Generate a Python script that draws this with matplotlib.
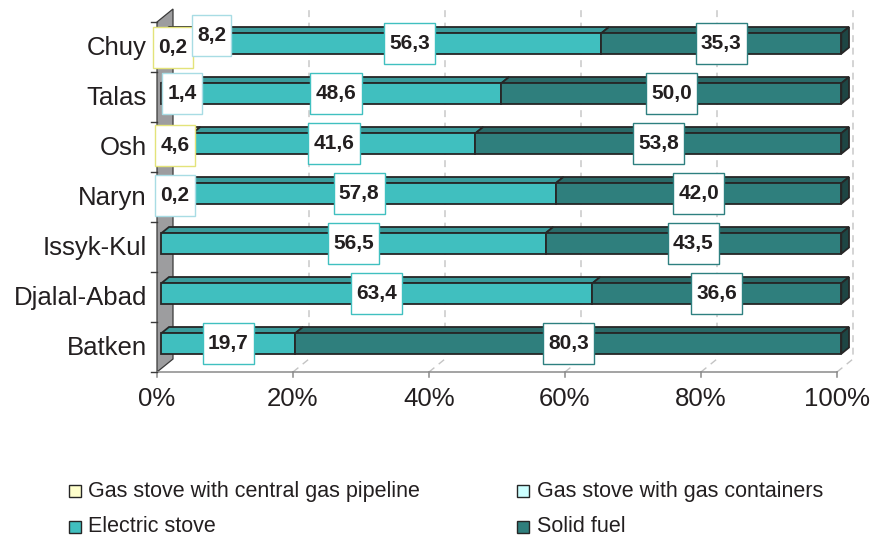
import matplotlib
matplotlib.use("Agg")
import matplotlib.pyplot as plt
from matplotlib.patches import Polygon, Rectangle
from matplotlib.path import Path

plt.rcParams["font.family"] = ["Liberation Sans", "DejaVu Sans"]

# ---- data (percent of households by main cooking appliance) ----
regions = ["Batken", "Djalal-Abad", "Issyk-Kul", "Naryn", "Osh", "Talas", "Chuy"]
gas_pipeline = [0.0, 0.0, 0.0, 0.0, 4.6, 0.0, 0.2]
gas_containers = [0.0, 0.0, 0.0, 0.2, 0.0, 1.4, 8.2]
electric = [19.7, 63.4, 56.5, 57.8, 41.6, 48.6, 56.3]
solid_fuel = [80.3, 36.6, 43.5, 42.0, 53.8, 50.0, 35.3]
series_names = ["Gas stove with central gas pipeline",
                "Gas stove with gas containers",
                "Electric stove",
                "Solid fuel"]
x_ticks = [0, 20, 40, 60, 80, 100]

# ---- styling ----
face_colors = ["#FFFFCC", "#CCFFFF", "#40BFBF", "#2F7F7D"]
top_colors = ["#E0E0B0", "#B0E0E0", "#3A9C9C", "#2A6A68"]
cap_colors = ["#C9C99E", "#9EC9C9", "#267373", "#1E4644"]
label_edges = ["#E3E37A", "#A8DCE4", "#40C0C0", "#2E8080"]
edge = "#262626"
ink = "#231F20"

W, H, DPI = 873, 543, 100
PX_PER_PCT = 6.8          # horizontal scale
X0_PX = 157               # 0 % on the front edge
SLOT_PX = 50              # height of one category slot
YAXIS_PX = 372            # front bottom edge, from top of image

DX = 16 / PX_PER_PCT      # full depth of the box, in data units
DY = 13 / SLOT_PX
D_FRONT, D_BACK = 0.27, 0.75   # bar depth range within the box
HALF_H = 0.205                 # half height of a bar's front face

fig = plt.figure(figsize=(W / DPI, H / DPI), dpi=DPI)
ax = fig.add_axes([0, 0, 1, 1])
ax.set_xlim(-X0_PX / PX_PER_PCT, (W - X0_PX) / PX_PER_PCT)
ax.set_ylim(-0.5 - (H - YAXIS_PX) / SLOT_PX, -0.5 + YAXIS_PX / SLOT_PX)
ax.axis("off")

n = len(regions)
y_bot, y_top = -0.5, n - 0.5


def proj(x, y, d):
    return (x + d * DX, y + d * DY)


# side wall on the left
wall = Polygon([proj(0, y_bot, 0), proj(0, y_bot, 1), proj(0, y_top, 1), proj(0, y_top, 0)],
               closed=True, facecolor="#9D9D9F", edgecolor="#3A3A3A", lw=0.9, zorder=1)
ax.add_patch(wall)

# gridlines on the back plane and floor
for t in x_ticks[1:]:
    xs, ys = zip(proj(t, y_bot, 0), proj(t, y_bot, 1), proj(t, y_top, 1))
    ax.plot(xs, ys, color="#C4C4C4", lw=1.0, ls=(0, (5, 4)), zorder=0.5)

# front bottom axis with ticks
ax.plot([0, 100], [y_bot, y_bot], color="#8A8A8A", lw=1.1, zorder=2)
for t in x_ticks:
    ax.plot([t, t], [y_bot, y_bot - 0.1], color="#8A8A8A", lw=1.1, zorder=2)
    ax.text(t, y_bot - 0.54, f"{t}%", ha="center", va="center",
            fontsize=18.5, color=ink)

# left axis ticks and category names
for k in range(n + 1):
    ax.plot([-0.9, 0], [k - 0.5, k - 0.5], color="#3A3A3A", lw=1.0, zorder=2)
for i, name in enumerate(regions):
    ax.text(-1.5, i - 0.02, name, ha="right", va="center", fontsize=18.5, color=ink)

# stacked 3-D bars
series = [gas_pipeline, gas_containers, electric, solid_fuel]
for i in range(n):
    y0, y1 = i - HALF_H, i + HALF_H
    left = 0.0
    vals = [s[i] for s in series]
    last = max(j for j, v in enumerate(vals) if v > 0)
    for j, v in enumerate(vals):
        if v <= 0:
            continue
        a, b = left, left + v
        top = Polygon([proj(a, y1, D_FRONT), proj(b, y1, D_FRONT),
                       proj(b, y1, D_BACK), proj(a, y1, D_BACK)],
                      closed=True, facecolor=top_colors[j], edgecolor=edge,
                      lw=1.3, joinstyle="miter", zorder=3)
        front = Polygon([proj(a, y0, D_FRONT), proj(b, y0, D_FRONT),
                         proj(b, y1, D_FRONT), proj(a, y1, D_FRONT)],
                        closed=True, facecolor=face_colors[j], edgecolor=edge,
                        lw=1.3, joinstyle="miter", zorder=3)
        ax.add_patch(top)
        ax.add_patch(front)
        if j == last:
            cap = Polygon([proj(b, y0, D_FRONT), proj(b, y0, D_BACK),
                           proj(b, y1, D_BACK), proj(b, y1, D_FRONT)],
                          closed=True, facecolor=cap_colors[j], edgecolor=edge,
                          lw=1.3, joinstyle="miter", zorder=3)
            ax.add_patch(cap)
        left = b


def label_box(x0, y0, width, height, mutation_size):
    """Rectangle a little wider than the text and of fixed height."""
    padx = 0.25 * mutation_size
    h = 2.0 * mutation_size
    cy = y0 + height / 2
    xa, xb = x0 - padx, x0 + width + padx
    ya, yb = cy - h / 2, cy + h / 2
    return Path([(xa, ya), (xb, ya), (xb, yb), (xa, yb), (xa, ya)], closed=True)


# small labels near the wall are moved aside so they stay readable
nudges = {("Chuy", 0): (11, -4), ("Chuy", 1): (21, 8), ("Talas", 1): (16, 0),
          ("Osh", 0): (-2, -2), ("Naryn", 1): (13, -2)}

for i, name in enumerate(regions):
    left = 0.0
    for j, s in enumerate(series):
        v = s[i]
        if v <= 0:
            continue
        mx, my = proj(left + v / 2, i, D_FRONT)
        off = nudges.get((name, j), (0, 0))
        ax.annotate(f"{v:.1f}".replace(".", ","), (mx, my), xytext=off,
                    textcoords="offset pixels", ha="center", va="center",
                    fontsize=15, fontweight="bold", color=ink, zorder=6,
                    bbox=dict(boxstyle=label_box, facecolor="white",
                              edgecolor=label_edges[j], lw=1.0))
        left += v

# legend: two columns, two rows
legend_cols = [(69, 88), (517, 537)]
legend_rows = [491, 527]
order = [(0, 0, 0), (1, 0, 1), (2, 1, 0), (3, 1, 1)]
for j, r, c in order:
    sx, tx = legend_cols[c]
    cy = legend_rows[r]
    sq = Rectangle((sx / W, 1 - (cy + 6) / H), 12 / W, 12 / H,
                   transform=fig.transFigure, facecolor=face_colors[j],
                   edgecolor=edge, lw=1.0)
    fig.patches.append(sq)
    fig.text(tx / W, 1 - cy / H, series_names[j], ha="left", va="center",
             fontsize=15.5, color=ink)

fig.savefig("out.png", dpi=DPI)
